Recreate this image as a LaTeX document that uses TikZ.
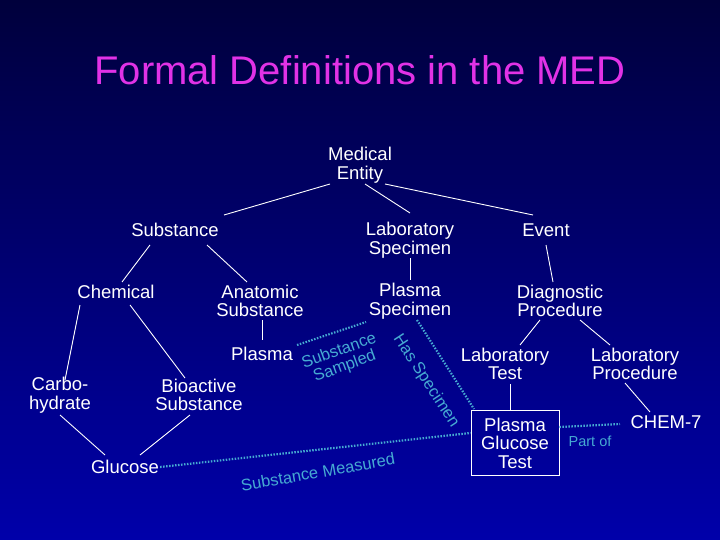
\documentclass[tikz,border=0pt]{standalone}
\usepackage{fontspec}
\setmainfont{Liberation Sans}
\begin{document}
\begin{tikzpicture}[x=1pt,y=-1pt,
  lbl/.style={text=white,font=\fontsize{18.5}{18.5}\selectfont,align=center,inner sep=1pt},
  tree/.style={white,line width=0.9pt},
  rel/.style={draw={rgb,255:red,70;green,170;blue,210},line width=2.2pt,dash pattern=on 1.5pt off 1.5pt},
  rlbl/.style={text={rgb,255:red,70;green,170;blue,210},font=\fontsize{16.5}{16.5}\selectfont,align=center,inner sep=0pt}]
\shade[top color={rgb,255:red,0;green,0;blue,60},bottom color={rgb,255:red,0;green,0;blue,170}] (0,0) rectangle (720,540);
\useasboundingbox (0,0) rectangle (720,540);
\node[text={rgb,255:red,225;green,50;blue,230},font=\fontsize{40}{40}\selectfont] (title) at (360,70) {Formal Definitions in the MED};
\node[lbl] (me) at (360,165) {Medical\\Entity};
\node[lbl] (sub) at (175,230) {Substance};
\node[lbl] (ls) at (410,240) {Laboratory\\Specimen};
\node[lbl] (ev) at (546,230) {Event};
\node[lbl] (chem) at (116,292) {Chemical};
\node[lbl] (anat) at (260,301) {Anatomic\\Substance};
\node[lbl] (ps) at (410,301) {Plasma\\Specimen};
\node[lbl] (dp) at (560,301) {Diagnostic\\Procedure};
\node[lbl] (pl) at (262,354) {Plasma};
\node[lbl] (carb) at (60,395) {Carbo-\\hydrate};
\node[lbl] (bio) at (199,395) {Bioactive\\Substance};
\node[lbl] (lt) at (505,364) {Laboratory\\Test};
\node[lbl] (lp) at (635,364) {Laboratory\\Procedure};
\node[lbl] (glu) at (125,467) {Glucose};
\node[lbl,draw=white,line width=0.9pt,minimum width=88pt,minimum height=65pt] (pgt) at (515,443) {Plasma\\Glucose\\Test};
\node[lbl] (c7) at (666,422) {CHEM-7};
\draw[tree] (330,184) -- (224,215);
\draw[tree] (365,184) -- (410,213);
\draw[tree] (385,184) -- (533,215);
\draw[tree] (150,245) -- (122,282);
\draw[tree] (207,245) -- (247,282);
\draw[tree] (410,258) -- (410,280);
\draw[tree] (546,245) -- (553,282);
\draw[tree] (80,305) -- (65,380);
\draw[tree] (130,305) -- (185,378);
\draw[tree] (262,320) -- (262,340);
\draw[tree] (60,415) -- (105,455);
\draw[tree] (190,415) -- (140,455);
\draw[tree] (540,320) -- (520,345);
\draw[tree] (580,320) -- (610,345);
\draw[tree] (510,384) -- (pgt.north -| 510,0);
\draw[tree] (625,383) -- (650,412);
\draw[rel] (297,345) -- (366,322);
\draw[rel] (417,320) -- (474,409);
\draw[rel] (glu.east) -- (pgt.west |- 0,433);
\draw[rel] (pgt.east |- 0,427) -- (620,424);
\node[rlbl,rotate=20] (l1) at (342,359) {Substance\\Sampled};
\node[rlbl,rotate=-57] (l2) at (426,381) {Has Specimen};
\node[rlbl,rotate=10] (l3) at (318,472) {Substance Measured};
\node[rlbl,font=\fontsize{14.5}{14.5}\selectfont] (l4) at (590,441) {Part of};
\end{tikzpicture}
\end{document}
